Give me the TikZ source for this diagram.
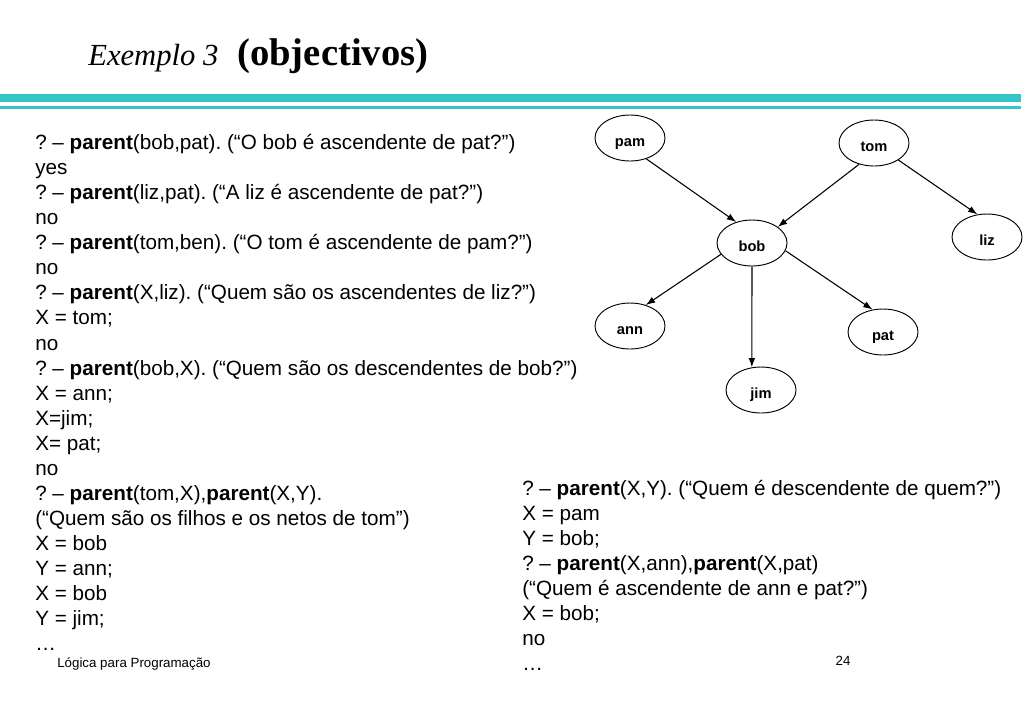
\documentclass[tikz,border=0pt]{standalone}
\usepackage{fontspec}
\setmainfont{Liberation Serif}
\newfontfamily\slidefont{Liberation Sans}
\usetikzlibrary{arrows,arrows.meta}
\usetikzlibrary{positioning,shapes}
\definecolor{ruleteal}{RGB}{52,198,198}
\frenchspacing

\begin{document}
\begin{tikzpicture}[%
        x=0.75pt, y=-0.75pt,
        every node/.style={inner sep=0pt},
        person/.style={draw, ellipse, line width=0.7pt, minimum width=52.5pt, minimum height=34.5pt,
          text height=12pt, text depth=0pt, font=\slidefont\fontsize{11pt}{13pt}\selectfont\bfseries},
        query/.style={anchor=north west, align=left, font=\slidefont\fontsize{15.5pt}{18.8pt}\selectfont},
        >={Latex[length=7pt,width=5pt]}
      ]
      \useasboundingbox (0,0) rectangle (1023,708);
      % title and rules
      \node [anchor=base west, font=\fontsize{23pt}{26pt}\selectfont\itshape] (title) at (88,65) {Exemplo 3};
      \node [anchor=base west, font=\fontsize{29pt}{32pt}\selectfont\bfseries] (subtitle) at (237,65) {(objectivos)};
      \fill [ruleteal] (0,93.5) rectangle (1021,101.5);
      \fill [ruleteal] (0,105.7) rectangle (1021,109.3);
      % family tree
      \node [person] (pam) at (630,138) {pam};
      \node [person] (tom) at (874,143) {tom};
      \node [person] (liz) at (987,237) {liz};
      \node [person] (bob) at (752,243) {bob};
      \node [person] (ann) at (630,326) {ann};
      \node [person] (pat) at (883,332) {pat};
      \node [person] (jim) at (761,390) {jim};
      \path [draw, line width=0.8pt] (pam.-52) edge[->] (bob.127)
      (tom.-125) edge[->] (bob.32)
      (tom.-35) edge[->] (liz.113)
      (bob.-160) edge[->] (ann.53)
      (bob.south) edge[->] (jim.112)
      (bob.-13) edge[->] (pat.115);
      % queries
      \node [query] (left) at (35,134) {%
        ? – \textbf{parent}(bob,pat). (“O bob é ascendente de pat?”)\\
        yes\\
        ? – \textbf{parent}(liz,pat). (“A liz é ascendente de pat?”)\\
        no\\
        ? – \textbf{parent}(tom,ben). (“O tom é ascendente de pam?”)\\
        no\\
        ? – \textbf{parent}(X,liz). (“Quem são os ascendentes de liz?”)\\
        X = tom;\\
        no\\
        ? – \textbf{parent}(bob,X). (“Quem são os descendentes de bob?”)\\
        X = ann;\\
        X=jim;\\
        X= pat;\\
        no\\
        ? – \textbf{parent}(tom,X),\textbf{parent}(X,Y).\\
        (“Quem são os filhos e os netos de tom”)\\
        X = bob\\
        Y = ann;\\
        X = bob\\
        Y = jim;\\
        …};
      \node [query] (right) at (522,480) {%
        ? – \textbf{parent}(X,Y). (“Quem é descendente de quem?”)\\
        X = pam\\
        Y = bob;\\
        ? – \textbf{parent}(X,ann),\textbf{parent}(X,pat)\\
        (“Quem é ascendente de ann e pat?”)\\
        X = bob;\\
        no\\
        …};
      % footer
      \node [anchor=base west, font=\slidefont\fontsize{10pt}{12pt}\selectfont] (course) at (57,667) {Lógica para Programação};
      \node [anchor=base, font=\slidefont\fontsize{10pt}{12pt}\selectfont] (page) at (843,665) {24};
    \end{tikzpicture}
\end{document}
